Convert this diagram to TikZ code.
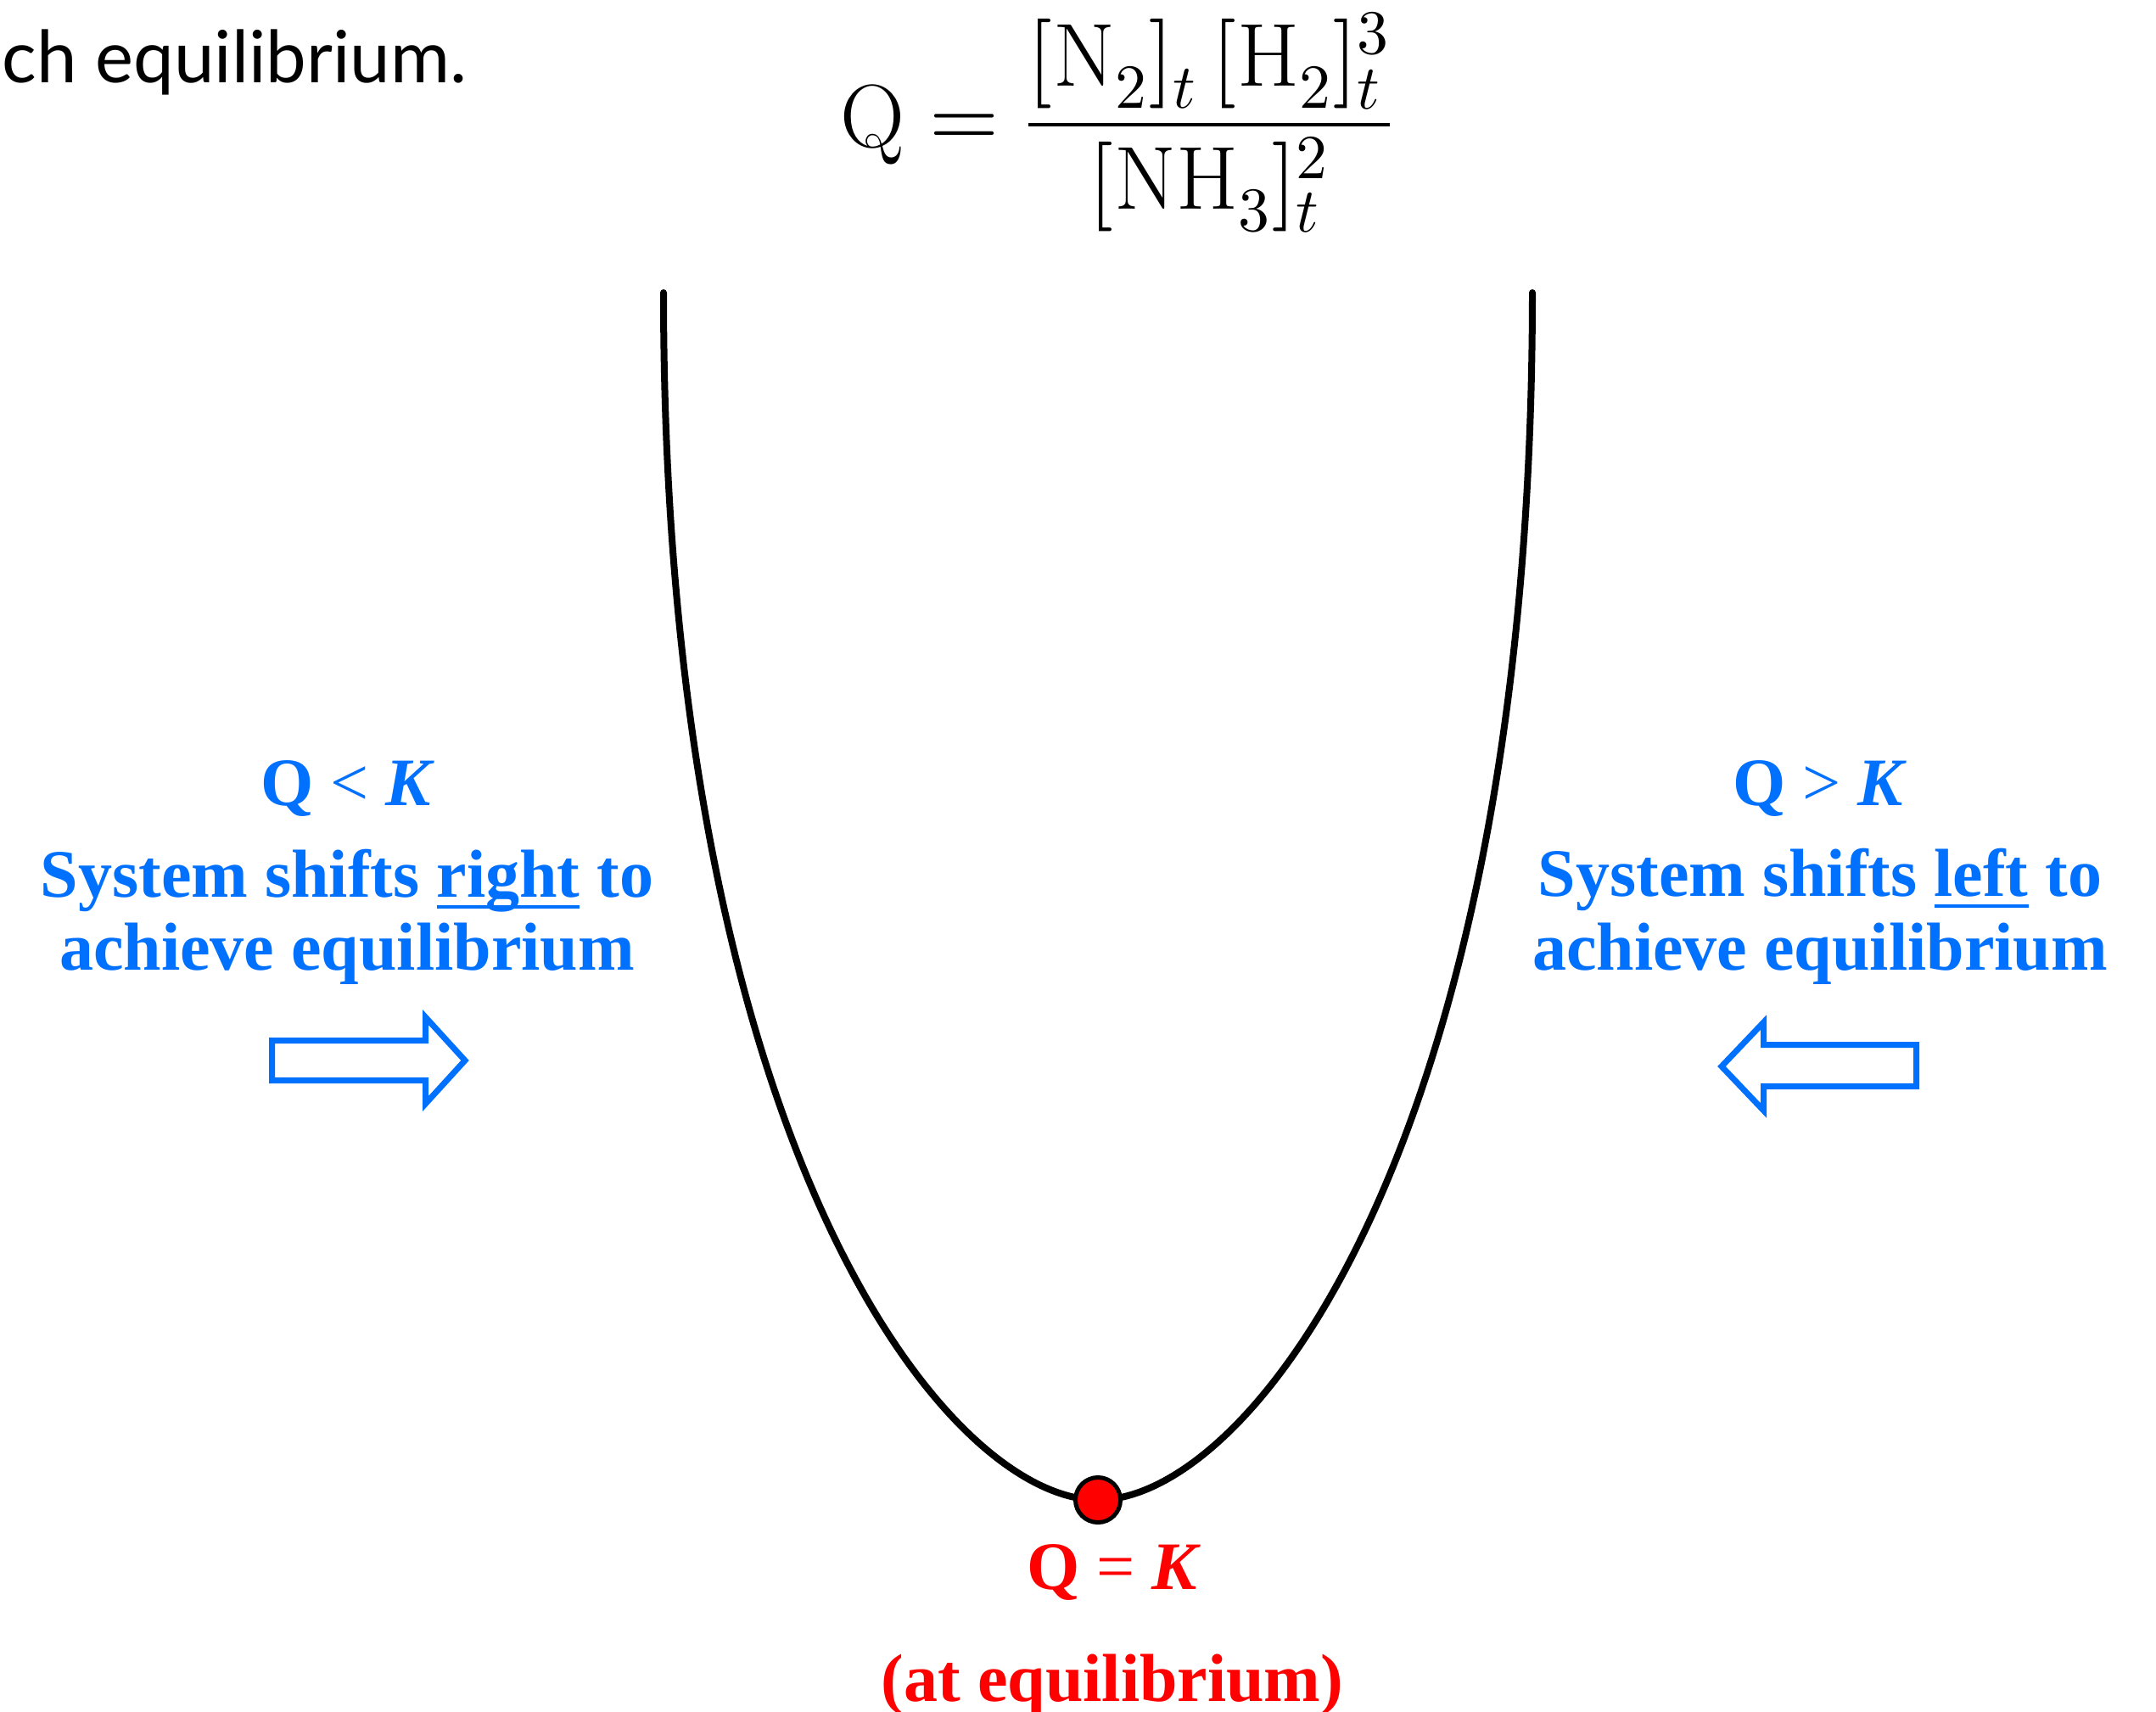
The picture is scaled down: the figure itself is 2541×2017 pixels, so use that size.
\documentclass[tikz,border=0pt]{standalone}
\usepackage{fontspec}
\usepackage{unicode-math}
\newfontfamily\latofont{Lato}
\newfontfamily\lblfont{Liberation Serif}
\definecolor{eqblue}{RGB}{0,112,255}
\definecolor{eqred}{RGB}{255,0,0}
\newcommand\myul[1]{\setbox0\hbox{#1}\rlap{\rule[-0.14cm]{\wd0}{0.04cm}}\box0\relax}
\tikzset{
  lbl/.style={anchor=base, inner sep=0pt, font=\lblfont\bfseries\fontsize{22.75}{27}\selectfont},
  lblblue/.style={lbl, text=eqblue},
  lblred/.style={lbl, text=eqred},
  arrowshape/.style={draw=eqblue, fill=white, line width=0.07cm, line join=miter},
  curveline/.style={line width=0.08cm, line cap=round, black}
}
\begin{document}
\begin{tikzpicture}[x=0.01cm, y=-0.01cm]
\path[use as bounding box, fill=white] (0,0) rectangle (2541,2017);

\node[anchor=base west, inner sep=0pt, font=\latofont\fontsize{24.2}{29}\selectfont] (intro) at (2,97) {ch equilibrium.};

\node[anchor=base west, inner sep=0pt, font=\fontsize{30}{36}\selectfont] (eq) at (990,173)
  {$\mathrm{Q} = \dfrac{[\mathrm{N}_2]_t\,[\mathrm{H}_2]_t^3}{[\mathrm{NH}_3]_t^2}$};

\coordinate (ltop) at (782,345);
\coordinate (rtop) at (1806,345);
\draw[curveline] (ltop) .. controls (782,1345) and (1114,1768) .. (1294,1768)
  .. controls (1474,1768) and (1806,1345) .. (rtop);

\node[circle, fill=eqred, draw=black, line width=0.05cm, minimum size=0.53cm, inner sep=0pt] (dot) at (1294,1768) {};

\node[lblblue] (qlk) at (410,949) {Q {\mdseries<} \textit{K}};
\node[lblblue] (lline1) at (409,1057) {System shifts \myul{right} to};
\node[lblblue] (lline2) at (409,1143) {achieve equilibrium};

\node[lblblue] (qgk) at (2145,949) {Q {\mdseries>} \textit{K}};
\node[lblblue] (rline1) at (2145,1056) {System shifts \myul{left} to};
\node[lblblue] (rline2) at (2145,1143) {achieve equilibrium};

\node[lblred] (qek) at (1313,1873) {Q {\mdseries=} \textit{K}};
\node[lblred] (ateq) at (1311,2005) {(at equilibrium)};

\draw[arrowshape] (320.5,1226.5) -- (501.5,1226.5) -- (501.5,1199) -- (548,1250)
  -- (501.5,1301) -- (501.5,1273.5) -- (320.5,1273.5) -- cycle;
\draw[arrowshape] (2258.5,1231.5) -- (2078.5,1231.5) -- (2078.5,1205) -- (2029,1257)
  -- (2078.5,1309) -- (2078.5,1280.5) -- (2258.5,1280.5) -- cycle;
\end{tikzpicture}
\end{document}
